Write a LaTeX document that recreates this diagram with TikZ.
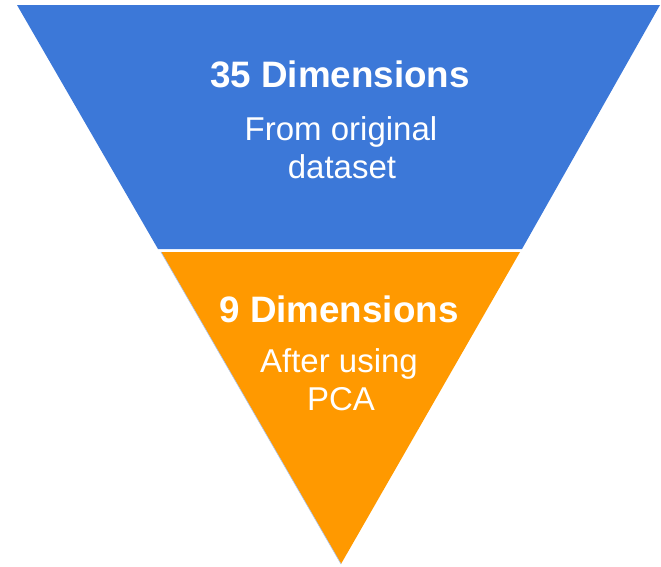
\documentclass[tikz,border=0pt]{standalone}
\usepackage{fontspec}
\setmainfont{Liberation Sans}
\definecolor{funnelblue}{HTML}{3C78D8}
\definecolor{funnelorange}{HTML}{FF9900}
\definecolor{edgeblue}{HTML}{A9C4F0}
\tikzset{
  titletext/.style={text=white, font=\fontsize{36.8}{38}\selectfont\bfseries, anchor=base, inner sep=0pt},
  bodytext/.style={text=white, font=\fontsize{33}{38}\selectfont, anchor=base, inner sep=0pt}
}
\begin{document}
\begin{tikzpicture}[x=1pt,y=-1pt]
\useasboundingbox (0,0) rectangle (661,566);
\fill[funnelblue] (17,5) -- (660,5) -- (522,249) -- (158,249) -- cycle;
\fill[funnelorange] (161,252) -- (520,252) -- (341,564) -- cycle;
\coordinate (ol) at (161,252);
\coordinate (oa) at (341,564);
\draw[edgeblue, line width=0.6pt] (ol) -- (oa);
\node[titletext] (t1) at (340,87) {35 Dimensions};
\node[bodytext] (b1) at (341,140) {From original};
\node[bodytext] (b2) at (342,178) {dataset};
\node[titletext] (t2) at (339,322) {9 Dimensions};
\node[bodytext] (b3) at (339,372) {After using};
\node[bodytext] (b4) at (341,410) {PCA};
\end{tikzpicture}
\end{document}
